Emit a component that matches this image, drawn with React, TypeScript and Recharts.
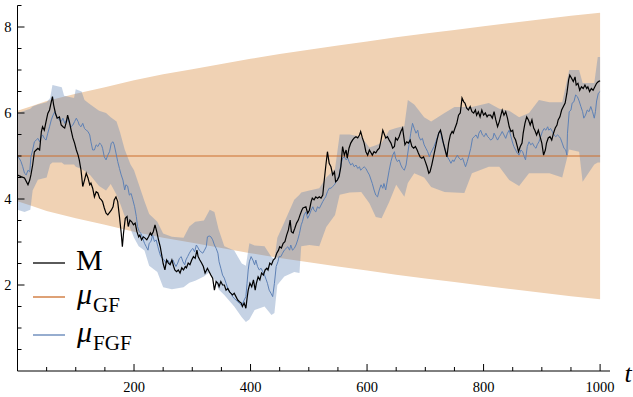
import { ComposedChart, Area, Line, XAxis, YAxis, Legend } from 'recharts';

// values: [t, value]
const mPoints: [number, number][] = [
  [0,4.56],[6,4.52],[12,4.49],[18,4.33],[21,4.44],[23,4.56],[26,4.79],[29,5.10],[32,5.14],[35,5.18],[38,5.14],[41,5.57],[43,5.68],[46,5.60],[49,5.80],[52,5.99],[55,6.07],[58,6.26],[60,6.38],[62,6.19],[65,6.00],[68,5.88],[72,5.91],[75,5.72],[78,5.68],[81,5.65],[84,5.80],[86,5.95],[89,5.80],[92,5.60],[95,5.42],[98,5.30],[101,5.14],[104,5.02],[106,4.91],[109,4.67],[112,4.29],[115,4.44],[118,4.60],[121,4.49],[124,4.33],[126,4.37],[129,4.25],[132,4.05],[135,4.17],[138,4.14],[141,4.02],[144,3.98],[146,3.94],[149,3.79],[152,3.67],[155,3.63],[161,3.74],[164,3.82],[166,3.98],[169,4.05],[172,3.94],[175,3.59],[178,3.21],[180,2.89],[182,3.21],[185,3.55],[188,3.59],[190,3.36],[193,3.51],[196,3.47],[199,3.40],[202,3.44],[205,3.24],[208,3.12],[210,3.16],[213,3.05],[216,3.12],[219,3.09],[222,3.05],[225,3.12],[228,3.21],[230,3.16],[233,3.24],[236,3.40],[239,3.24],[242,3.05],[245,2.89],[248,2.66],[250,2.50],[253,2.35],[256,2.58],[259,2.51],[262,2.47],[265,2.58],[268,2.43],[270,2.35],[273,2.31],[276,2.35],[279,2.28],[282,2.40],[285,2.35],[288,2.43],[290,2.40],[293,2.51],[296,2.47],[299,2.58],[302,2.66],[305,2.62],[308,2.81],[310,2.66],[313,2.58],[316,2.51],[319,2.43],[322,2.28],[326,2.39],[329,2.31],[332,2.23],[335,2.16],[338,1.88],[341,2.08],[344,2.04],[346,1.96],[349,2.08],[352,2.00],[355,2.00],[358,1.88],[361,1.92],[364,1.84],[366,1.81],[369,1.77],[372,1.81],[375,1.73],[378,1.65],[381,1.61],[384,1.58],[386,1.50],[389,1.58],[392,1.46],[394,1.69],[396,1.88],[399,2.04],[402,1.96],[405,2.12],[408,1.88],[410,2.04],[413,2.19],[416,2.12],[419,2.28],[422,2.23],[425,2.35],[428,2.39],[430,2.35],[433,2.51],[436,2.47],[439,2.58],[442,2.62],[445,2.74],[448,2.81],[450,2.89],[453,2.86],[456,2.97],[459,3.01],[462,3.16],[465,3.28],[468,3.51],[470,3.24],[473,3.21],[476,3.32],[479,3.44],[482,3.51],[485,3.63],[488,3.74],[490,3.79],[495,3.82],[498,3.67],[501,3.74],[504,3.94],[506,4.02],[509,3.98],[512,4.05],[515,4.02],[518,4.05],[521,4.02],[524,4.09],[526,4.37],[529,4.75],[532,5.10],[535,4.83],[538,4.75],[541,4.56],[544,4.63],[546,4.40],[549,4.44],[552,4.52],[555,4.75],[558,5.22],[561,5.02],[564,5.14],[566,4.95],[569,5.18],[572,5.30],[575,5.37],[578,5.42],[581,5.45],[584,5.42],[587,5.49],[589,5.57],[592,5.42],[595,5.30],[598,5.10],[601,5.02],[604,5.14],[607,5.07],[609,5.02],[612,5.10],[615,5.07],[618,5.14],[621,5.18],[624,5.37],[627,5.60],[629,5.53],[632,5.42],[635,5.45],[638,5.37],[641,5.30],[644,5.18],[647,5.22],[649,5.42],[652,5.37],[655,5.45],[658,5.57],[661,5.65],[663,5.45],[665,5.26],[668,5.33],[671,5.30],[674,5.37],[677,5.22],[680,5.18],[683,5.22],[686,5.14],[688,5.07],[691,4.98],[694,4.95],[697,4.98],[700,4.87],[703,4.75],[706,4.60],[708,4.63],[711,4.79],[714,4.98],[717,5.18],[720,5.37],[723,5.53],[726,5.60],[728,5.49],[731,5.30],[734,5.14],[737,4.98],[740,5.30],[743,5.49],[746,5.57],[748,5.53],[751,5.65],[754,5.76],[757,5.95],[760,6.00],[763,6.35],[766,6.26],[768,6.23],[771,6.11],[774,6.07],[777,6.15],[780,6.03],[783,6.00],[786,6.07],[788,5.95],[791,6.03],[794,5.91],[797,6.07],[800,5.95],[803,6.00],[806,5.91],[808,5.95],[812,5.95],[815,5.88],[818,6.03],[821,5.84],[824,5.68],[827,5.80],[829,5.91],[832,6.07],[835,5.95],[838,6.03],[841,5.88],[844,5.68],[847,5.57],[850,5.60],[852,5.45],[855,5.37],[858,5.22],[860,5.10],[863,5.22],[866,5.30],[868,5.53],[871,5.76],[874,5.91],[877,5.84],[880,5.72],[883,5.84],[886,5.65],[888,5.60],[891,5.49],[894,5.60],[897,5.45],[900,5.30],[903,5.02],[906,5.14],[908,5.30],[911,5.42],[914,5.45],[917,5.37],[920,5.53],[923,5.65],[926,5.72],[928,5.84],[931,5.91],[934,6.07],[937,6.15],[940,6.23],[943,6.46],[946,6.77],[948,6.88],[951,6.81],[954,6.73],[957,6.84],[959,6.65],[962,6.69],[965,6.53],[968,6.61],[971,6.57],[974,6.65],[977,6.57],[979,6.61],[982,6.50],[985,6.57],[988,6.53],[991,6.61],[994,6.69],[997,6.73],[1000,6.75],
];

const fgfPoints: [number, number][] = [
  [0,4.98],[3,4.95],[6,4.87],[9,4.75],[12,4.60],[15,4.56],[18,4.67],[21,4.63],[23,4.98],[26,5.14],[29,5.33],[32,5.37],[35,5.41],[38,5.33],[41,5.45],[43,5.49],[46,5.41],[49,5.37],[52,5.53],[55,5.68],[58,5.84],[61,5.95],[64,6.03],[66,5.95],[69,5.88],[72,5.84],[75,5.80],[78,5.88],[81,5.76],[84,5.84],[86,5.88],[89,5.76],[92,5.68],[95,5.72],[98,5.80],[101,5.88],[104,5.80],[106,5.72],[109,5.68],[112,5.76],[115,5.64],[118,5.60],[121,5.57],[124,5.49],[126,5.33],[129,5.14],[132,5.14],[135,5.26],[138,5.22],[141,5.30],[144,5.26],[146,5.18],[149,4.98],[152,4.91],[155,5.02],[158,5.10],[161,5.30],[164,5.33],[166,5.26],[169,5.07],[172,4.87],[175,4.71],[178,4.56],[181,4.44],[184,4.21],[186,4.33],[189,4.30],[192,4.09],[195,4.13],[198,3.98],[201,3.82],[204,3.59],[206,3.36],[209,3.24],[212,3.20],[215,3.08],[218,2.97],[221,2.89],[224,2.81],[226,2.97],[229,3.01],[232,3.16],[235,3.01],[238,3.05],[241,2.89],[244,2.74],[246,2.66],[249,2.62],[252,2.58],[255,2.51],[258,2.58],[261,2.51],[264,2.54],[267,2.58],[269,2.51],[272,2.43],[275,2.51],[278,2.62],[281,2.66],[284,2.54],[287,2.47],[289,2.58],[292,2.66],[295,2.74],[298,2.81],[301,2.85],[304,2.77],[307,2.93],[309,2.89],[312,2.81],[315,2.77],[318,2.74],[321,2.81],[324,2.89],[326,3.12],[329,3.14],[332,3.12],[335,3.05],[338,2.93],[341,2.85],[344,2.74],[346,2.54],[349,2.39],[352,2.23],[355,2.16],[358,2.04],[361,1.92],[364,1.84],[367,1.81],[369,1.73],[372,1.69],[375,1.65],[378,1.61],[381,1.58],[384,1.53],[387,1.58],[389,1.65],[392,1.73],[394,2.04],[396,2.35],[398,2.54],[401,2.66],[404,2.58],[407,2.47],[409,2.58],[412,2.43],[415,2.35],[418,2.39],[421,2.31],[424,2.23],[427,2.12],[429,2.04],[432,1.88],[435,1.81],[438,1.73],[441,2.04],[444,2.43],[447,2.54],[449,2.66],[452,2.66],[455,2.74],[458,2.81],[461,2.85],[464,2.89],[467,2.81],[469,2.93],[472,2.81],[475,2.85],[478,2.93],[481,3.05],[484,3.20],[487,3.40],[489,3.47],[492,3.63],[495,3.70],[498,3.55],[501,3.63],[504,3.74],[507,3.82],[509,3.74],[512,3.70],[515,3.82],[518,3.78],[521,3.86],[524,3.94],[527,4.01],[529,4.05],[532,4.17],[535,4.25],[538,4.25],[541,4.29],[544,4.33],[547,4.40],[549,4.44],[552,4.56],[555,4.79],[558,4.95],[561,4.98],[564,4.91],[567,4.95],[569,4.87],[572,4.79],[575,4.83],[578,4.75],[581,4.79],[584,4.71],[587,4.75],[589,4.67],[592,4.71],[595,4.75],[598,4.71],[601,4.63],[604,4.56],[607,4.44],[609,4.36],[612,4.21],[615,4.09],[618,4.05],[621,4.21],[624,4.33],[627,4.25],[629,4.36],[632,4.21],[635,4.44],[638,4.67],[641,4.87],[644,5.02],[647,5.10],[649,4.95],[652,4.87],[655,4.91],[658,4.79],[661,4.71],[664,4.67],[667,4.79],[669,4.98],[672,5.26],[675,5.53],[678,5.76],[681,5.64],[684,5.53],[687,5.60],[689,5.45],[692,5.37],[695,5.41],[698,5.26],[701,5.18],[704,5.10],[707,4.98],[709,5.06],[712,5.14],[715,5.22],[718,5.33],[721,5.45],[724,5.57],[727,5.53],[729,5.37],[732,5.26],[735,5.10],[738,4.98],[741,4.91],[744,4.83],[747,4.91],[749,4.87],[752,4.95],[755,5.02],[758,4.95],[761,4.91],[764,4.95],[767,4.83],[769,4.75],[772,4.87],[775,5.02],[778,5.18],[781,5.41],[784,5.45],[787,5.49],[790,5.41],[792,5.53],[795,5.60],[798,5.49],[801,5.45],[804,5.53],[807,5.45],[810,5.41],[812,5.37],[816,5.41],[818,5.53],[821,5.45],[824,5.37],[827,5.45],[829,5.49],[832,5.57],[835,5.49],[838,5.41],[841,5.53],[844,5.60],[847,5.45],[850,5.30],[852,5.22],[855,5.14],[858,5.06],[861,5.02],[864,5.14],[867,5.10],[870,4.98],[872,4.91],[875,5.22],[878,5.33],[881,5.26],[884,5.30],[887,5.22],[890,5.18],[892,5.26],[895,5.33],[898,5.45],[901,5.57],[904,5.64],[907,5.60],[910,5.68],[912,5.60],[915,5.64],[918,5.57],[921,5.49],[924,5.45],[927,5.49],[930,5.45],[932,5.41],[935,5.30],[938,5.18],[941,5.14],[943,5.02],[944,5.53],[947,6.03],[950,6.07],[952,6.23],[955,6.26],[958,6.42],[961,6.38],[964,6.28],[967,6.15],[970,6.03],[972,5.88],[975,5.95],[978,6.07],[981,6.03],[984,6.15],[987,6.03],[990,5.88],[992,6.03],[994,6.28],[997,6.46],[1000,6.50],
];

// [t, low, high] of the FGF band
const fgfBand: [number, number, number][] = [
  [0,3.75,6.0],[12,3.7,6.05],[22,3.75,6.1],[26,4.2,6.15],[35,4.45,6.2],[50,4.5,6.25],[56,4.8,6.35],[60,4.85,6.65],[76,4.85,6.6],[80,4.8,6.4],[97,4.8,6.35],[100,4.75,6.55],[110,4.7,6.5],[115,4.65,6.3],[125,4.55,6.2],[140,4.3,6.05],[152,4.2,6.0],[160,4.35,5.9],[170,4.1,5.8],[176,3.9,5.55],[184,3.6,5.15],[194,3.3,4.8],[200,3.1,4.67],[208,2.9,4.35],[218,2.8,3.95],[226,2.45,3.65],[240,2.3,3.47],[250,1.95,3.2],[265,1.9,3.12],[285,1.95,3.1],[295,2.05,3.36],[305,2.1,3.47],[320,2.2,3.5],[330,2.3,3.75],[338,2.12,3.7],[345,1.9,3.3],[355,1.77,2.9],[372,1.5,2.8],[385,1.25,2.5],[392,1.14,2.45],[398,1.2,2.97],[407,1.42,2.92],[424,1.5,2.9],[436,1.3,2.65],[441,1.35,2.6],[446,2.0,3.1],[458,2.2,3.46],[475,2.3,3.98],[484,2.28,4.1],[487,2.9,4.15],[501,2.93,4.2],[518,2.9,4.25],[530,3.35,4.5],[545,3.63,4.7],[553,4.1,5.5],[570,4.15,5.5],[590,4.16,5.45],[604,3.9,5.2],[615,3.58,5.25],[625,3.55,5.3],[638,3.93,5.6],[650,4.33,5.65],[664,4.05,5.7],[670,4.37,6.3],[681,4.6,6.2],[698,4.5,5.9],[710,4.28,5.8],[733,4.16,6.0],[750,4.15,6.14],[767,4.14,6.14],[780,4.6,6.14],[809,4.75,6.23],[827,4.75,6.1],[844,4.44,6.05],[861,4.3,5.9],[878,4.6,6.0],[895,4.6,6.3],[913,4.6,6.25],[935,4.5,6.25],[947,5.15,7.0],[964,5.1,7.0],[970,4.4,6.7],[990,4.8,6.7],[996,4.85,7.3],[1000,4.85,7.3],
];

// [t, low, high] of the GF band
const gfBand: [number, number, number][] = [
  [0,3.95,6.05],[25,3.84,6.16],[50,3.72,6.28],[100,3.55,6.45],[150,3.4,6.6],[200,3.24,6.76],[250,3.1,6.9],[300,2.98,7.02],[350,2.86,7.14],[400,2.74,7.26],[450,2.63,7.37],[500,2.53,7.47],[550,2.43,7.57],[600,2.34,7.66],[650,2.24,7.76],[700,2.15,7.85],[750,2.07,7.93],[800,1.98,8.02],[850,1.9,8.1],[900,1.82,8.18],[950,1.74,8.26],[1000,1.67,8.33],
];

const gfMean: [number, number][] = [[0, 5], [1000, 5]];

const xTicks = [50,100,150,200,250,300,350,400,450,500,550,600,650,700,750,800,850,900,950,1000];
const xLabels = [200, 400, 600, 800, 1000];
const yTicks = [0.5,1,1.5,2,2.5,3,3.5,4,4.5,5,5.5,6,6.5,7,7.5,8,8.5];
const yLabels = [2, 4, 6, 8];

const legendOrder = ['M', 'μ_GF', 'μ_FGF'];

const FONT = '"Liberation Serif", "DejaVu Serif", serif';
const ORANGE = '#cd6f2c';
const BLUE = '#5e81b5';

const lineData = (pts: [number, number][]) => pts.map(([t, v]) => ({ t, v }));
const bandData = (pts: [number, number, number][]) => pts.map(([t, lo, hi]) => ({ t, r: [lo, hi] }));

const XTick = ({ x, y, payload }: any) => {
  const major = xLabels.includes(payload.value);
  return (
    <g>
      <line x1={x} x2={x} y1={y} y2={y - (major ? 7 : 4)} stroke='#000' />
      {major && (
        <text x={x} y={y + 21} textAnchor='middle' fontFamily={FONT} fontSize={14.5} fill='#000'>
          {payload.value}
        </text>
      )}
    </g>
  );
};

const YTick = ({ x, y, payload }: any) => {
  const major = yLabels.includes(payload.value);
  return (
    <g>
      <line x1={x} x2={x + (major ? 7 : 4)} y1={y} y2={y} stroke='#000' />
      {major && (
        <text x={x - 6} y={y + 5} textAnchor='end' fontFamily={FONT} fontSize={14.5} fill='#000'>
          {payload.value}
        </text>
      )}
    </g>
  );
};

const LegendBox = ({ payload }: any) => {
  const items = legendOrder
    .map((name) => (payload || []).find((p: any) => p.value === name))
    .filter(Boolean);
  const rowY = [23, 57, 95];
  return (
    <svg width={160} height={118} style={{ display: 'block' }}>
      {items.map((p: any, i: number) => {
        const [main, sub] = String(p.value).split('_');
        const y = rowY[i];
        return (
          <g key={p.value}>
            <line x1={33} x2={65} y1={y} y2={y} stroke={p.color} strokeWidth={1.3} />
            {sub ? (
              <text x={77} y={y + 6.5} fontFamily={FONT} fill='#000'>
                <tspan fontSize={30} fontStyle='italic'>{main}</tspan>
                <tspan fontSize={21} dx={1} dy={8.5}>{sub}</tspan>
              </text>
            ) : (
              <text x={76} y={y + 7} fontFamily={FONT} fontSize={30} fill='#000'>
                {main}
              </text>
            )}
          </g>
        );
      })}
    </svg>
  );
};

export default function App() {
  return (
    <div style={{ position: 'absolute', left: 0, top: 0 }}>
      <ComposedChart width={633} height={397} margin={{ top: 5.5, right: 23, bottom: 0, left: 0 }}>
        <XAxis
          type='number'
          dataKey='t'
          domain={[0, 1017]}
          ticks={xTicks}
          interval={0}
          allowDataOverflow
          height={26}
          stroke='#000'
          tickLine={false}
          tickSize={0}
          tickMargin={0}
          tick={<XTick />}
        />
        <YAxis
          type='number'
          domain={[0, 8.5]}
          ticks={yTicks}
          interval={0}
          allowDataOverflow
          width={17.5}
          stroke='#000'
          tickLine={false}
          tickSize={0}
          tickMargin={0}
          tick={<YTick />}
        />
        <Area
          data={bandData(gfBand)}
          dataKey='r'
          type='linear'
          stroke='none'
          fill='#f0d2b4'
          fillOpacity={1}
          legendType='none'
          activeDot={false}
          isAnimationActive={false}
        />
        <Area
          data={bandData(fgfBand)}
          dataKey='r'
          type='linear'
          stroke='none'
          fill={BLUE}
          fillOpacity={0.36}
          legendType='none'
          activeDot={false}
          isAnimationActive={false}
        />
        <Line
          data={lineData(gfMean)}
          dataKey='v'
          name='μ_GF'
          stroke={ORANGE}
          strokeWidth={1}
          dot={false}
          isAnimationActive={false}
        />
        <Line
          data={lineData(fgfPoints)}
          dataKey='v'
          name='μ_FGF'
          stroke={BLUE}
          strokeWidth={1}
          dot={false}
          isAnimationActive={false}
        />
        <Line
          data={lineData(mPoints)}
          dataKey='v'
          name='M'
          stroke='#000'
          strokeWidth={1.2}
          dot={false}
          isAnimationActive={false}
        />
        <Legend
          layout='horizontal'
          verticalAlign='middle'
          align='center'
          content={<LegendBox />}
          wrapperStyle={{ left: 0, top: 240, width: 160, height: 118 }}
        />
        <text x={628} y={382} textAnchor='middle' fontFamily={FONT} fontStyle='italic' fontSize={26} fill='#000'>
          t
        </text>
      </ComposedChart>
    </div>
  );
}
